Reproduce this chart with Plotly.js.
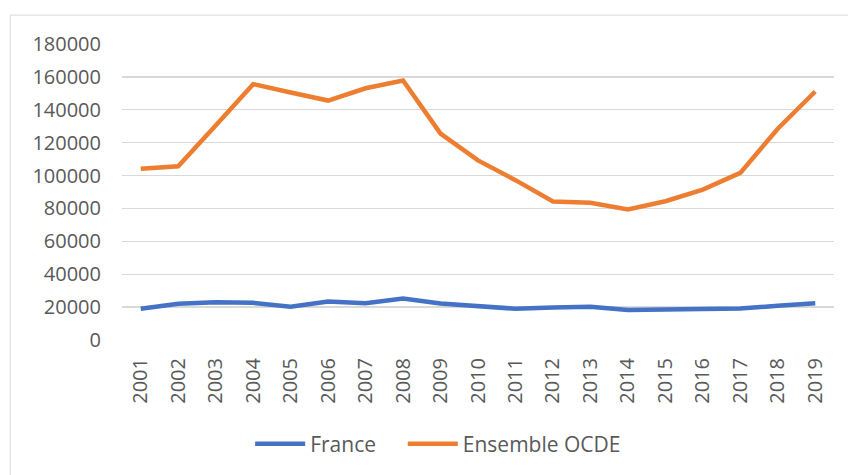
<!DOCTYPE html>
<html>
<head>
<meta charset="utf-8">
<script src="https://cdn.plot.ly/plotly-3.0.1.min.js"></script>
<style>html,body{margin:0;padding:0;background:#fff;}#chart{width:848px;height:475px;}</style>
</head>
<body>
<div id="chart"></div>
<script>
const years = ["2001","2002","2003","2004","2005","2006","2007","2008","2009","2010","2011","2012","2013","2014","2015","2016","2017","2018","2019"];
const france = [19000,22000,23000,22600,20200,23400,22400,25300,22200,20600,19000,19800,20200,18200,18600,18800,19200,20800,22400];
const ocde = [104100,105600,130500,155600,150500,145600,153100,157800,125500,109200,97200,84200,83400,79400,84400,91500,101600,128500,151100];
const yTicks = [0,20000,40000,60000,80000,100000,120000,140000,160000,180000];

const font = "Open Sans, Lato, sans-serif";
const pad = "\u00a0".repeat(4);
const traces = [
  {x: years, y: france, name: "France" + pad, type: "scatter", mode: "lines",
   line: {color: "#4472C4", width: 4.5}},
  {x: years, y: ocde, name: "Ensemble OCDE", type: "scatter", mode: "lines",
   line: {color: "#ED7D31", width: 4.5}}
];
const layout = {
  width: 848, height: 475,
  margin: {l: 122, r: 14, t: 44, b: 134},
  paper_bgcolor: "#fff", plot_bgcolor: "#fff",
  font: {family: font, size: 20, color: "#595959"},
  xaxis: {type: "category", range: [-0.5, 18.5], tickangle: -90, showgrid: false, zeroline: false,
          showline: false, ticks: "", ticklabelstandoff: 13, tickfont: {size: 20, color: "#595959"}},
  yaxis: {range: [0, 180000], tickvals: yTicks, ticktext: yTicks.map(String),
          showgrid: true, gridcolor: "#d9d9d9", gridwidth: 1.3, zeroline: false,
          showline: false, ticks: "", ticklabelstandoff: 20,
          tickfont: {size: 20, color: "#595959"}},
  showlegend: true,
  legend: {orientation: "h", x: 0.18, xanchor: "left", y: -0.347, yanchor: "middle",
           font: {size: 21, color: "#595959"}, itemwidth: 50},
  shapes: [{type: "rect", xref: "paper", yref: "paper", x0: -0.157, x1: 1.2, y0: -0.6, y1: 1.0976,
            line: {color: "#d9d9d9", width: 1}, fillcolor: "rgba(0,0,0,0)", layer: "below"}]
};
Plotly.newPlot("chart", traces, layout, {displayModeBar: false, staticPlot: true});
</script>
</body>
</html>
